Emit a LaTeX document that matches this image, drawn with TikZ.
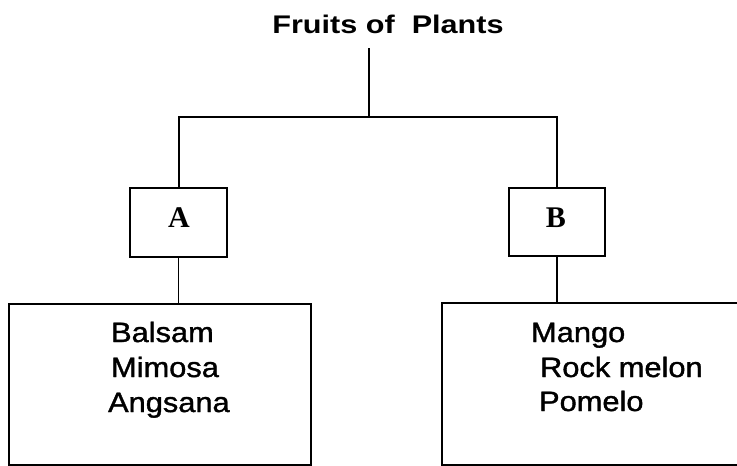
\documentclass[tikz,border=0pt]{standalone}
\usepackage{fontspec}
\setmainfont{Liberation Sans}
\newfontfamily\serifbox{Liberation Serif}
\newfontfamily\scanfont{Liberation Sans}[FakeBold=1.2]
\begin{document}
\begin{tikzpicture}[x=1pt,y=-1pt,
  line width=2pt,
  boxlabel/.style={font=\serifbox\bfseries\fontsize{30}{34}\selectfont, inner sep=0pt, anchor=base},
  listtext/.style={anchor=base west, font=\scanfont\fontsize{28}{32}\selectfont, inner sep=0pt, xscale=1.1, transform shape}]
\useasboundingbox (0,0) rectangle (737,466);
\node[font=\bfseries\fontsize{25.5}{30}\selectfont, xscale=1.2, transform shape, anchor=base, inner sep=0pt] (title) at (388,33) {Fruits of\ \ Plants};
\coordinate (tb) at (369,48);
\coordinate (j) at (369,117);
\node[draw, minimum width=97pt, minimum height=69pt, inner sep=0pt] (A) at (178.5,222.5) {};
\node[boxlabel] (Alab) at (179,227) {A};
\node[draw, minimum width=96pt, minimum height=68pt, inner sep=0pt] (B) at (557,222) {};
\node[boxlabel] (Blab) at (556,227) {B};
\node[draw, minimum width=302pt, minimum height=161pt, inner sep=0pt] (L) at (160,384.5) {};
\node[draw, minimum width=298pt, minimum height=162pt, inner sep=0pt] (R) at (591,384) {};
\node[listtext] (l1) at (110,342) {Balsam};
\node[listtext] (l2) at (110,377) {Mimosa};
\node[listtext] (l3) at (107,412) {Angsana};
\node[listtext] (r1) at (530,342) {Mango};
\node[listtext] (r2) at (539,377) {Rock melon};
\node[listtext] (r3) at (538,411) {Pomelo};
\draw (tb) -- (j);
\draw (A.north) |- (j) -| (B.north);
\draw[line width=1pt] (A.south) -- (A.south |- L.north);
\draw[line width=2.6pt] (B.south) -- (B.south |- R.north);
\end{tikzpicture}
\end{document}
